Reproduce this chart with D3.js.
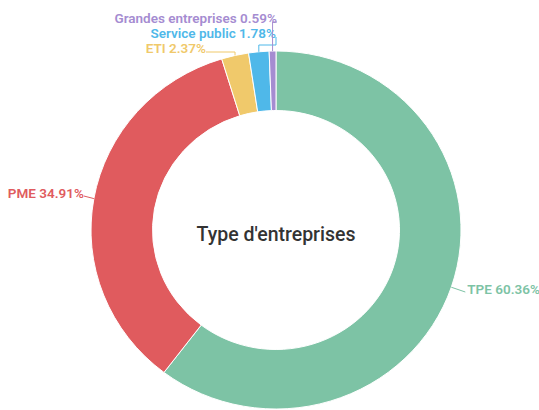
<!DOCTYPE html>
<html>
<head>
<meta charset="utf-8">
<script src="https://cdn.jsdelivr.net/npm/d3@7"></script>
<style>
  body { margin: 0; background: #fff; }
  svg { display: block; font-family: Roboto, "Noto Sans", sans-serif; }
</style>
</head>
<body>
<svg width="539" height="410"></svg>
<script>
"use strict";

// data
var categories = ["TPE", "PME", "ETI", "Service public", "Grandes entreprises"];
var shares = [60.36, 34.91, 2.37, 1.78, 0.59];
var colors = ["#7dc3a5", "#e05b5e", "#f0c96b", "#4fb8e9", "#a58cd1"];
var title = "Type d'entreprises";

// label placement (side, y of label, elbow y for connector)
var labelLayout = [
    { side: "right", dx: 14, y: 289 },
    { side: "left", dx: -10, y: 193 },
    { side: "left", x: 206, y: 48, elbow: 52 },
    { side: "left", x: 276, y: 33, elbow: 45 },
    { side: "left", x: 277, y: 18, elbow: 22 }
];

var svg = d3.select("svg"),
    cx = 276, cy = 230,
    rx = 185, ry = 179,
    inner = 123.5;

var g = svg.append("g")
    .attr("transform", "translate(" + cx + "," + cy + ")");

// picture is slightly squashed vertically
var ring = g.append("g")
    .attr("transform", "scale(1," + (ry / rx) + ")");

var pie = d3.pie().sort(null).value(function (d) { return d; });
var arc = d3.arc().innerRadius(inner).outerRadius(rx);
var arcs = pie(shares);

ring.selectAll(".slice")
    .data(arcs)
    .enter().append("path")
    .attr("class", "slice")
    .attr("d", arc)
    .attr("fill", function (d, i) { return colors[i]; })
    .attr("stroke", "#fff")
    .attr("stroke-width", 1);

function edgePoint(d) {
    var a = (d.startAngle + d.endAngle) / 2;
    return [rx * Math.sin(a), -ry * Math.cos(a)];
}

arcs.forEach(function (d, i) {
    var L = labelLayout[i];
    var p = edgePoint(d);
    var lx, ly = L.y - cy, path;
    if (L.x !== undefined) {
        lx = L.x - cx;
        var ey = L.elbow - cy;
        path = "M" + p[0] + "," + p[1] + "L" + p[0] + "," + ey +
            "L" + lx + "," + ey + "L" + lx + "," + (ly + 4);
    } else {
        lx = p[0] + L.dx;
        path = "M" + p[0] + "," + p[1] + "L" + lx + "," + (ly + 3);
    }
    g.append("path")
        .attr("d", path)
        .attr("fill", "none")
        .attr("stroke", colors[i])
        .attr("stroke-width", 1);
    g.append("text")
        .attr("x", L.side === "right" ? lx + 2 : lx)
        .attr("y", ly)
        .attr("dy", "0.35em")
        .attr("text-anchor", L.side === "right" ? "start" : "end")
        .attr("fill", colors[i])
        .style("font-size", "13.5px")
        .style("font-weight", "600")
        .text(categories[i] + " " + shares[i].toFixed(2) + "%");
});

g.append("text")
    .attr("x", 0)
    .attr("y", 4)
    .attr("dy", "0.35em")
    .attr("text-anchor", "middle")
    .attr("fill", "#333")
    .style("font-size", "19.5px")
    .style("font-weight", "500")
    .text(title);
</script>
</body>
</html>
